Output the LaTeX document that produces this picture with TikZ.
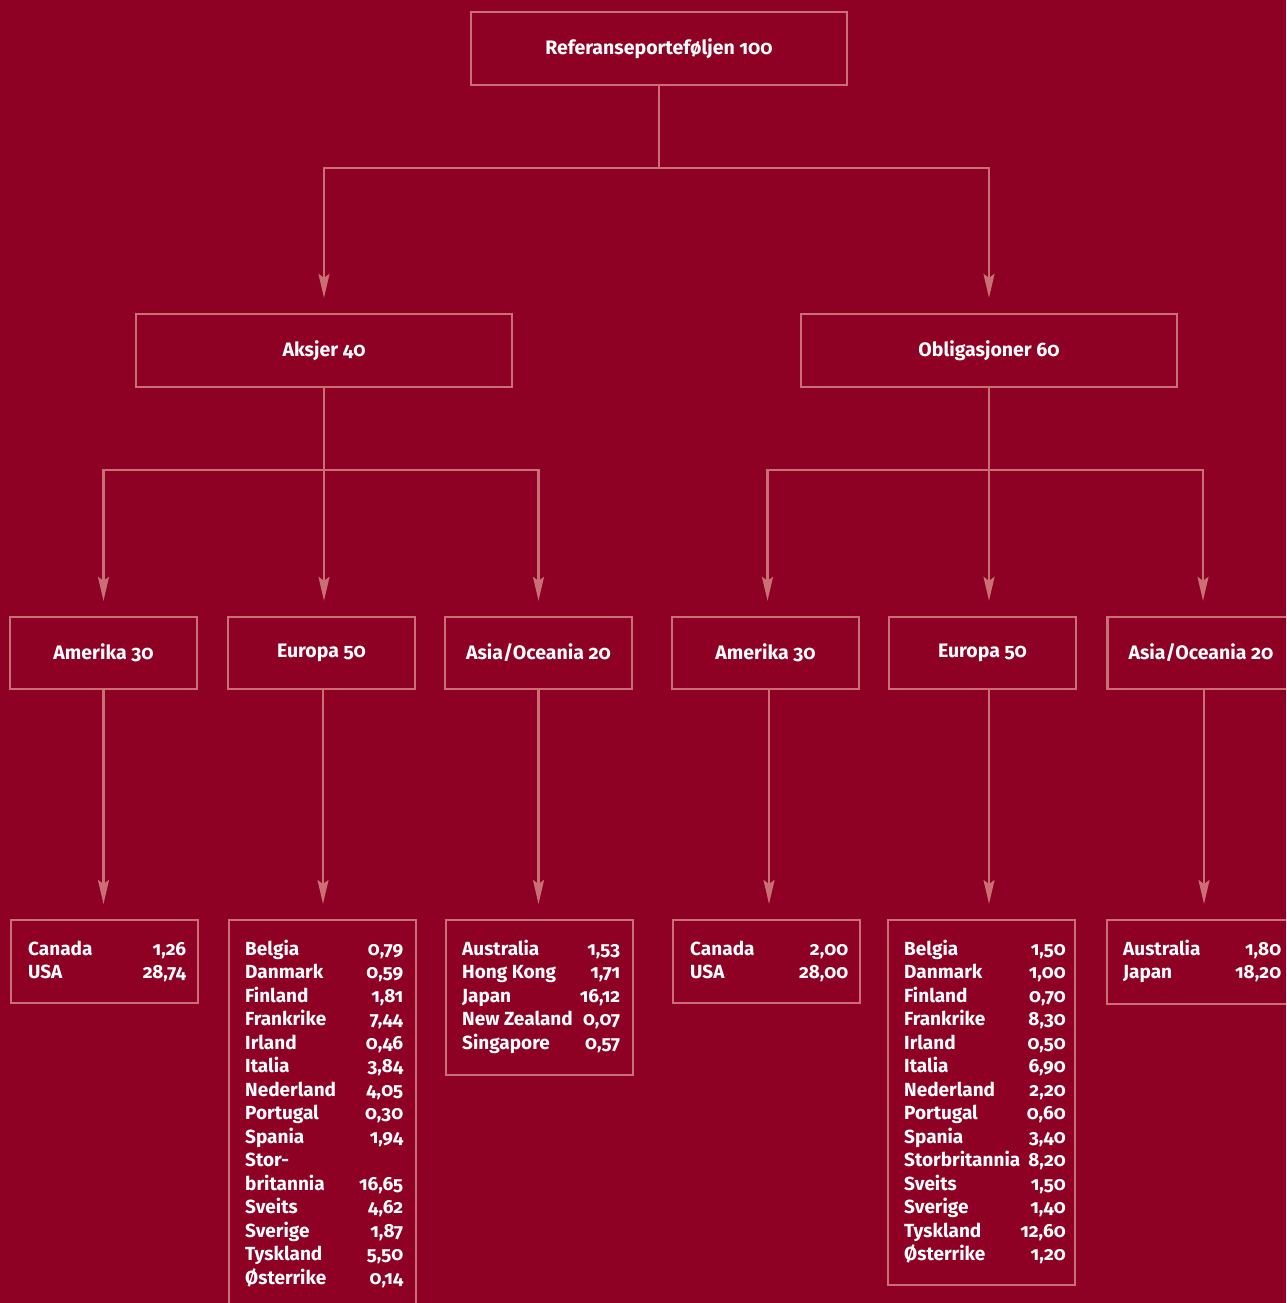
\documentclass[tikz,border=0pt]{standalone}
\usepackage{fontspec}
\setmainfont{Fira Sans}[Numbers=OldStyle]
\usetikzlibrary{arrows.meta}
\definecolor{bg}{RGB}{142,0,36}
\definecolor{ln}{RGB}{202,112,116}
\begin{document}
\begin{tikzpicture}[x=1pt,y=-1pt,
  hdr/.style={draw=ln, line width=2.3pt, minimum width=187pt, minimum height=72pt, inner sep=0pt, text=white, font=\bfseries\fontsize{19.5}{23}\selectfont},
  big/.style={hdr, minimum width=376pt, minimum height=73pt},
  leaf/.style={draw=ln, line width=2.3pt, anchor=north west, inner sep=0pt, minimum width=187pt},
  list/.style={anchor=base west, inner sep=0pt, text=white, font=\bfseries\fontsize{19}{23.5}\selectfont},
  arr/.style={draw=ln, line width=2.3pt, -{Stealth[length=24pt,width=11pt,inset=4pt]}, shorten >=15pt},
  conn/.style={draw=ln, line width=2.3pt}]
\useasboundingbox (0,0) rectangle (1286,1303);
\fill[bg] (0,0) rectangle (1286,1303);
\clip (0,0) rectangle (1286,1303);
\newcommand\tbl[1]{\begin{tabular*}{158pt}[t]{@{}l@{\extracolsep{\fill}}r@{}}#1\end{tabular*}}

% level 1 and 2
\node[big] (root) at (659,48.5) {Referanseporteføljen 100};
\node[big] (aks) at (324,350.5) {Aksjer 40};
\node[big] (obl) at (989,350.5) {Obligasjoner 60};

% level 3
\node[hdr] (a1) at (103.5,653) {Amerika 30};
\node[hdr] (e1) at (321.5,653) {Europa 50};
\node[hdr] (s1) at (538.5,653) {Asia/Oceania 20};
\node[hdr] (a2) at (765.5,653) {Amerika 30};
\node[hdr] (e2) at (982.5,653) {Europa 50};
\node[hdr] (s2) at (1201,653) {Asia/Oceania 20};

% leaf boxes
\node[leaf, minimum height=83pt] (a1l) at (10,919) {};
\node[leaf, minimum height=420pt] (e1l) at (228,919) {};
\node[leaf, minimum height=155pt] (s1l) at (445,919) {};
\node[leaf, minimum height=83pt] (a2l) at (672,919) {};
\node[leaf, minimum height=365pt] (e2l) at (887,919) {};
\node[leaf, minimum height=84pt] (s2l) at (1106,919) {};

% leaf texts
\node[list] (a1t) at (28,955) {\tbl{Canada & 1,26\\ USA & 28,74}};
\node[list] (e1t) at (245,955) {\tbl{Belgia & 0,79\\ Danmark & 0,59\\ Finland & 1,81\\ Frankrike & 7,44\\ Irland & 0,46\\ Italia & 3,84\\ Nederland & 4,05\\ Portugal & 0,30\\ Spania & 1,94\\ Stor- & \\ britannia & 16,65\\ Sveits & 4,62\\ Sverige & 1,87\\ Tyskland & 5,50\\ Østerrike & 0,14}};
\node[list] (s1t) at (462,955) {\tbl{Australia & 1,53\\ Hong Kong & 1,71\\ Japan & 16,12\\ New Zealand & 0,07\\ Singapore & 0,57}};
\node[list] (a2t) at (690,955) {\tbl{Canada & 2,00\\ USA & 28,00}};
\node[list] (e2t) at (904,955) {\tbl{Belgia & 1,50\\ Danmark & 1,00\\ Finland & 0,70\\ Frankrike & 8,30\\ Irland & 0,50\\ Italia & 6,90\\ Nederland & 2,20\\ Portugal & 0,60\\ Spania & 3,40\\ Storbritannia & 8,20\\ Sveits & 1,50\\ Sverige & 1,40\\ Tyskland & 12,60\\ Østerrike & 1,20}};
\node[list] (s2t) at (1123,955) {\tbl{Australia & 1,80\\ Japan & 18,20}};

% connectors
\draw[arr] (root.south) -- ++(0,82) -| (aks.north);
\draw[arr] (root.south) -- ++(0,82) -| (obl.north);

\draw[arr] (aks.south) -- ++(0,82) -| (a1.north);
\draw[arr] (aks.south) -- (aks.south |- e1.north);
\draw[arr] (aks.south) -- ++(0,82) -| (s1.north);

\draw[arr] (obl.south) -- ++(0,82) -| ([xshift=2pt]a2.north);
\draw[arr] (obl.south) -- (obl.south |- e2.north);
\draw[arr] (obl.south) -- ++(0,82) -| ([xshift=2pt]s2.north);

\draw[arr] (a1.south) -- (a1.south |- a1l.north);
\draw[arr] ([xshift=1.5pt]e1.south) -- ([xshift=1.5pt]e1.south |- e1l.north);
\draw[arr] (s1.south) -- (s1.south |- s1l.north);
\draw[arr] ([xshift=3.5pt]a2.south) -- ([xshift=3.5pt]a2.south |- a2l.north);
\draw[arr] ([xshift=6.5pt]e2.south) -- ([xshift=6.5pt]e2.south |- e2l.north);
\draw[arr] ([xshift=3pt]s2.south) -- ([xshift=3pt]s2.south |- s2l.north);
\end{tikzpicture}
\end{document}
